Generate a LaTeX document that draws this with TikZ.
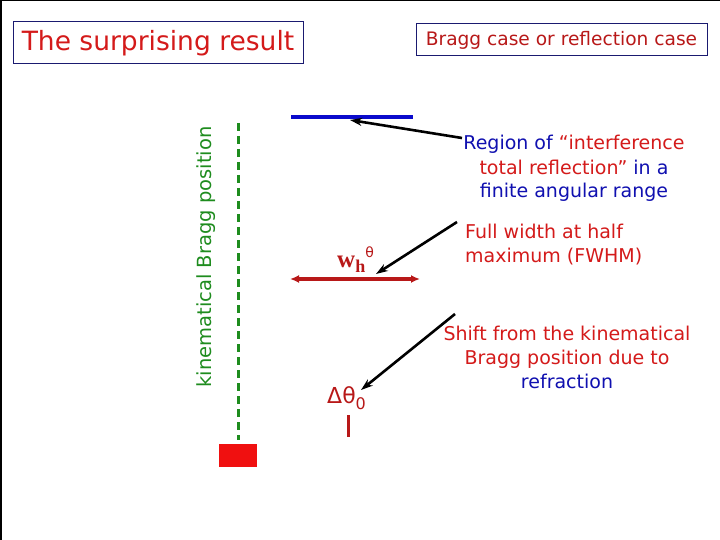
\documentclass[tikz,border=0pt]{standalone}
\usepackage{fontspec}
\setmainfont{DejaVu Sans}
\newfontfamily\serifb{Liberation Serif}
\definecolor{tred}{HTML}{D41A1A}
\definecolor{dred}{HTML}{B81818}
\definecolor{navy}{HTML}{1A1A70}
\definecolor{tblue}{HTML}{1010B0}
\definecolor{lblue}{HTML}{0A0ACC}
\definecolor{tgreen}{HTML}{1E8C1E}
\definecolor{bred}{HTML}{F01010}
\tikzset{
  titlebox/.style={draw=navy, line width=1pt, inner sep=0pt, fill=white},
  lbl/.style={font=\fontsize{19}{24}\selectfont, align=center, inner sep=0pt},
  pointer/.style={-{Stealth[length=12pt,width=8pt]}, line width=2.6pt, black},
}
\usetikzlibrary{arrows.meta}
\begin{document}
\begin{tikzpicture}[x=1pt,y=-1pt]
\useasboundingbox (0,0) rectangle (720,540);
\fill[white] (0,0) rectangle (720,540);
\draw[black, line width=2pt] (1,540) -- (1,0.5) -- (720,0.5);
% title boxes
\node[titlebox, minimum width=290pt, minimum height=42pt, text=tred,
  font=\fontsize{26.5}{30}\selectfont] (title) at (158,43) {The surprising result};
\node[titlebox, minimum width=291pt, minimum height=32pt, text=dred,
  font=\fontsize{18.6}{22}\selectfont] (bragg) at (561.5,40) {Bragg case or reflection case};
% blue bar
\coordinate (bl) at (291,117);
\coordinate (br) at (413,117);
\draw[lblue, line width=3.5pt] (bl) -- (br);
\coordinate (bhit) at (350,120);
% green dashed line
\coordinate (gt) at (238,123);
\coordinate (gb) at (238,440);
\draw[tgreen, line width=3pt, dash pattern=on 8pt off 5pt] (gt) -- (gb);
\node[rotate=90, text=tgreen, font=\fontsize{19.5}{22}\selectfont, inner sep=0pt] (kin) at (206,257) {kinematical Bragg position};
% red rectangle
\node[fill=bred, minimum width=38pt, minimum height=23pt, inner sep=0pt] (rect) at (238,455.5) {};
% FWHM double arrow
\coordinate (fl) at (290,279);
\coordinate (fr) at (420,279);
\draw[{Latex[length=9pt,width=8pt]}-{Latex[length=9pt,width=8pt]}, dred, line width=3.4pt] (fl) -- (fr);
\coordinate (fhit) at (376,274);
\node[text=dred, inner sep=0pt, anchor=base west] (wh) at (337,267)
  {{\serifb\bfseries\fontsize{25}{25}\selectfont w\raisebox{-5pt}{\fontsize{18}{18}\selectfont h}}\raisebox{10pt}{\fontsize{14}{14}\selectfont θ}};
% shift
\node[text=dred, inner sep=0pt, anchor=base west] (dt) at (327,403)
  {\fontsize{22}{22}\selectfont Δθ\raisebox{-6pt}{\fontsize{16}{16}\selectfont 0}};
\coordinate (shit) at (361,390);
\coordinate (vt) at (348,415);
\coordinate (vb) at (348,437);
\draw[dred, line width=3pt] (vt) -- (vb);
% labels
\node[lbl, anchor=base] (region) at (574,198)
  {\textcolor{tblue}{Region of} \textcolor{tred}{“interference}\\
   \textcolor{tred}{total reflection”} \textcolor{tblue}{in a}\\
   \textcolor{tblue}{finite angular range}};
\node[lbl, align=left, anchor=base west, text=tred] (fwhm) at (465,262)
  {Full width at half\\maximum (FWHM)};
\node[lbl, anchor=base] (shift) at (567,388)
  {\textcolor{tred}{Shift from the kinematical}\\
   \textcolor{tred}{Bragg position due to}\\
   \textcolor{tblue}{refraction}};
% pointers
\coordinate (rt) at (462,138);
\coordinate (ft) at (457,222);
\coordinate (st) at (455,314);
\draw[pointer] (rt) -- (bhit);
\draw[pointer] (ft) -- (fhit);
\draw[pointer] (st) -- (shit);
\end{tikzpicture}
\end{document}
